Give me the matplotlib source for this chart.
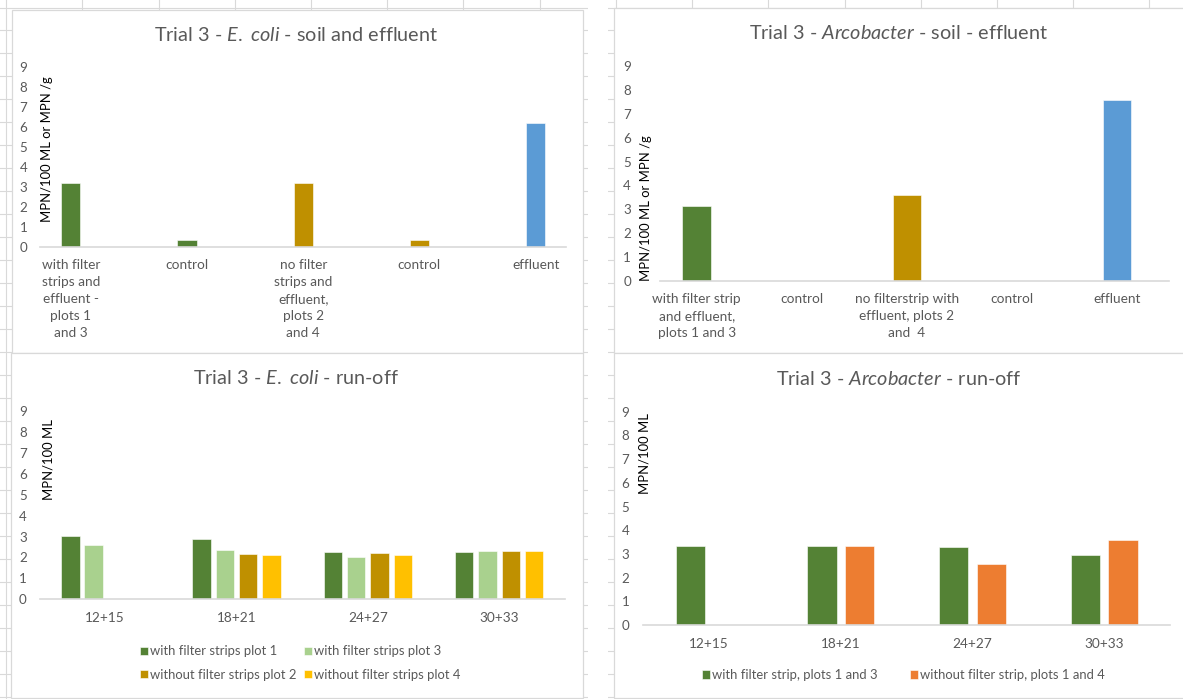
import numpy as np
import matplotlib
matplotlib.use("Agg")
import matplotlib.pyplot as plt
from matplotlib.lines import Line2D
from matplotlib.patches import Rectangle

plt.rcParams['font.family'] = ['Lato', 'DejaVu Sans']
plt.rcParams['mathtext.fontset'] = 'custom'
plt.rcParams['mathtext.rm'] = 'Lato'
plt.rcParams['mathtext.it'] = 'Lato:italic'

# ---------------------------------------------------------------- data
ecoli_soil_labels = ["with filter\nstrips and\neffluent -\nplots 1\nand 3", "control",
                     "no filter\nstrips and\neffluent,\nplots 2\nand 4", "control", "effluent"]
ecoli_soil_values = [3.18, 0.33, 3.18, 0.33, 6.18]

arco_soil_labels = ["with filter strip\nand effluent,\nplots 1 and 3", "control",
                    "no filterstrip with\neffluent, plots 2\nand  4", "control", "effluent"]
arco_soil_values = [3.15, 0.0, 3.62, 0.0, 7.58]

runoff_samples = ["12+15", "18+21", "24+27", "30+33"]

ecoli_plot1 = [3.04, 2.88, 2.25, 2.25]
ecoli_plot3 = [2.60, 2.35, 2.04, 2.29]
ecoli_plot2 = [np.nan, 2.15, 2.20, 2.29]
ecoli_plot4 = [np.nan, 2.10, 2.10, 2.29]
ecoli_runoff_names = ["with filter strips plot 1", "with filter strips plot 3",
                      "without filter strips plot 2", "without filter strips plot 4"]

arco_with_strip = [3.33, 3.33, 3.29, 2.94]
arco_without_strip = [np.nan, 3.33, 2.57, 3.60]
arco_runoff_names = ["with filter strip, plots 1 and 3", "without filter strip, plots 1 and 4"]

# ---------------------------------------------------------------- style
GREEN = "#548235"
LIGHT_GREEN = "#A9D18E"
GOLD = "#BF9000"
YELLOW = "#FFC000"
BLUE = "#5B9BD5"
ORANGE = "#ED7D31"
TEXT_GRAY = "#595959"
LINE_GRAY = "#d9d9d9"

TITLE_SIZE = 14.3
YLAB_SIZE = 9.4
YTICK_SIZE = 9.6
XTICK_SIZE = 9.8
LEGEND_SIZE = 9.4
LABEL_LINESPACING = 1.52

W, H = 1183, 699
fig = plt.figure(figsize=(W / 100, H / 100), dpi=100)
fig.patch.set_facecolor("white")


def fx(x):
    return x / W


def fy(y):
    return 1 - y / H


# worksheet cell grid behind the charts
for k in range(0, 31):
    y = 7.5 + 22.97 * k
    fig.add_artist(Line2D([0, 1], [fy(y), fy(y)], color=LINE_GRAY, lw=0.8, zorder=-5))
for k in range(-1, 15):
    x = 82.3 + 76.22 * k
    fig.add_artist(Line2D([fx(x), fx(x)], [0, 1], color=LINE_GRAY, lw=0.8, zorder=-5))
fig.add_artist(Rectangle((fx(588), 0), fx(608) - fx(588), 1, facecolor="white",
                         edgecolor="none", zorder=-4))

# chart areas
for (x0, y0, x1, y1) in [(11.5, 10, 583, 353), (10.7, 353, 582.5, 697.7),
                         (613.8, 7.5, 1195, 353), (613.8, 353, 1195, 697.7)]:
    fig.add_artist(Rectangle((fx(x0), fy(y1)), fx(x1) - fx(x0), fy(y0) - fy(y1),
                             facecolor="white", edgecolor=LINE_GRAY, lw=0.9, zorder=-3))


def make_axes(x0, x1, ytop, ybot, xlim, ypad, xpad):
    ax = fig.add_axes([fx(x0), fy(ybot), fx(x1) - fx(x0), fy(ytop) - fy(ybot)])
    ax.set_facecolor("none")
    ax.set_ylim(0, 9)
    ax.set_xlim(*xlim)
    ax.set_yticks(range(10))
    for s in ("top", "right", "left"):
        ax.spines[s].set_visible(False)
    ax.spines["bottom"].set_color(LINE_GRAY)
    ax.spines["bottom"].set_linewidth(1.2)
    ax.tick_params(axis="y", length=0, pad=ypad, labelsize=YTICK_SIZE, labelcolor=TEXT_GRAY)
    ax.tick_params(axis="x", length=0, pad=xpad, labelsize=XTICK_SIZE, labelcolor=TEXT_GRAY)
    return ax


# --- E. coli soil and effluent
ax1 = make_axes(40.2, 565.6, 66.7, 246.7, (-0.263, 4.258), 9.2, 8.5)
x = np.arange(len(ecoli_soil_labels))
ax1.bar(x, ecoli_soil_values, width=0.165, color=[GREEN, GREEN, GOLD, GOLD, BLUE],
        edgecolor="white", linewidth=0.4)
ax1.set_xticks(x)
ax1.set_xticklabels(ecoli_soil_labels, linespacing=LABEL_LINESPACING, ha="center")
fig.text(fx(296.6), fy(35), r"Trial 3 - $\mathit{E.\ coli}$ - soil and effluent",
         ha="center", va="center", fontsize=TITLE_SIZE, color=TEXT_GRAY)
fig.text(fx(46.7), fy(149), "MPN/100 ML or MPN /g", rotation=90, ha="center", va="center",
         fontsize=YLAB_SIZE, color="black")

# --- Arcobacter soil and effluent
ax2 = make_axes(659.5, 1168.8, 66, 281, (-0.354, 4.496), 20.5, 8.5)
x = np.arange(len(arco_soil_labels))
ax2.bar(x, arco_soil_values, width=0.27, color=[GREEN, GREEN, GOLD, GOLD, BLUE],
        edgecolor="white", linewidth=0.4)
ax2.set_xticks(x)
ax2.set_xticklabels(arco_soil_labels, linespacing=LABEL_LINESPACING, ha="center")
fig.text(fx(899), fy(33), r"Trial 3 - $\mathit{Arcobacter}$ - soil - effluent",
         ha="center", va="center", fontsize=TITLE_SIZE, color=TEXT_GRAY)
fig.text(fx(646.5), fy(208.5), "MPN/100 ML or MPN /g", rotation=90, ha="center", va="center",
         fontsize=YLAB_SIZE, color="black")

# --- E. coli run-off
ax3 = make_axes(39.6, 564.8, 411, 599.3, (-0.5, 3.5), 9.2, 9.5)
x = np.arange(len(runoff_samples))
step, bw = 0.1775, 0.141
bars3 = []
for i, (vals, col) in enumerate(zip([ecoli_plot1, ecoli_plot3, ecoli_plot2, ecoli_plot4],
                                    [GREEN, LIGHT_GREEN, GOLD, YELLOW])):
    b = ax3.bar(x + (i - 1.5) * step, vals, width=bw, color=col, edgecolor="white",
                linewidth=0.4, label=ecoli_runoff_names[i])
    bars3.append(b)
ax3.set_xticks(x)
ax3.set_xticklabels(runoff_samples)
order = [0, 2, 1, 3]
ax3.legend([bars3[i] for i in order], [ecoli_runoff_names[i] for i in order], ncol=2,
           loc="center left", bbox_to_anchor=(fx(139.7), fy(663)),
           bbox_transform=fig.transFigure, frameon=False, fontsize=LEGEND_SIZE,
           labelcolor=TEXT_GRAY, handlelength=0.62, handleheight=0.62,
           handletextpad=0.15, columnspacing=0.6, labelspacing=0.85, borderpad=0,
           borderaxespad=0)
fig.text(fx(295.6), fy(378), r"Trial 3 - $\mathit{E.\ coli}$ - run-off",
         ha="center", va="center", fontsize=TITLE_SIZE, color=TEXT_GRAY)
fig.text(fx(48.6), fy(460), "MPN/100 ML", rotation=90, ha="center", va="center",
         fontsize=YLAB_SIZE, color="black")

# --- Arcobacter run-off
ax4 = make_axes(643.3, 1170, 411.7, 625, (-0.5, 3.5), 10, 9.5)
step, bw = 0.286, 0.224
b1 = ax4.bar(x - step / 2, arco_with_strip, width=bw, color=GREEN, edgecolor="white",
             linewidth=0.4)
b2 = ax4.bar(x + step / 2, arco_without_strip, width=bw, color=ORANGE, edgecolor="white",
             linewidth=0.4)
ax4.set_xticks(x)
ax4.set_xticklabels(runoff_samples)
ax4.legend([b1, b2], arco_runoff_names, ncol=2, loc="center left",
           bbox_to_anchor=(fx(702), fy(675)), bbox_transform=fig.transFigure,
           frameon=False, fontsize=LEGEND_SIZE, labelcolor=TEXT_GRAY, handlelength=0.62,
           handleheight=0.62, handletextpad=0.15, columnspacing=2.5, borderpad=0,
           borderaxespad=0)
fig.text(fx(899), fy(379), r"Trial 3 - $\mathit{Arcobacter}$ - run-off",
         ha="center", va="center", fontsize=TITLE_SIZE, color=TEXT_GRAY)
fig.text(fx(644.6), fy(454), "MPN/100 ML", rotation=90, ha="center", va="center",
         fontsize=YLAB_SIZE, color="black")

fig.savefig("out.png", dpi=100, facecolor="white")
